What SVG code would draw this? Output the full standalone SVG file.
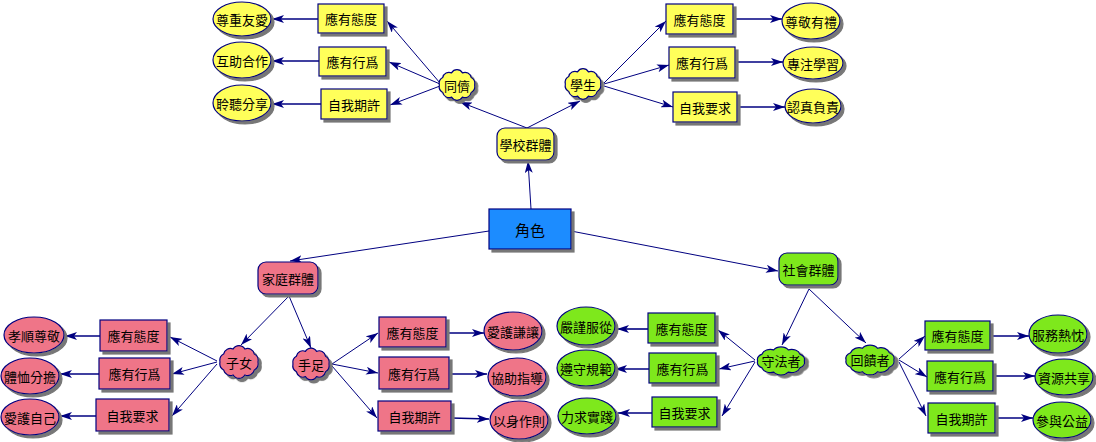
<svg xmlns="http://www.w3.org/2000/svg" xmlns:xlink="http://www.w3.org/1999/xlink" width="1096" height="442" viewBox="0 0 1096 442">
<style>
text{font-family:"Noto Sans CJK TC","Noto Sans CJK SC",sans-serif;font-size:13px;fill:#000;text-anchor:middle;dominant-baseline:central}
.sh{filter:url(#ds)}
.y{fill:#ffff5a;stroke:#000080;stroke-width:1.2}
.p{fill:#ef7588;stroke:#000080;stroke-width:1.2}
.g{fill:#7ee81e;stroke:#000080;stroke-width:1.2}
.b{fill:#1a8cff;stroke:#000080;stroke-width:1.2}
#edges line{stroke:#000080;stroke-width:1;marker-end:url(#ah)}
#edges line.h{stroke-width:1.6}
</style>
<defs>
<filter id="ds" x="-20%" y="-20%" width="150%" height="150%">
<feDropShadow dx="3" dy="3" stdDeviation="0.4" flood-color="#777" flood-opacity="1"/>
</filter>
<marker id="ah" markerWidth="13" markerHeight="8" refX="12" refY="4" orient="auto" markerUnits="userSpaceOnUse">
<path d="M0,0 L12,4 L0,8 L3,4 z" fill="#000080"/>
</marker>
<path id="cl" vector-effect="non-scaling-stroke" d="M19,0 A7,7 0 0 1 15.4,7.6 A7,7 0 0 1 5.9,12.4 A7,7 0 0 1 -5.9,12.4 A7,7 0 0 1 -15.4,7.6 A7,7 0 0 1 -19,0 A7,7 0 0 1 -15.4,-7.6 A7,7 0 0 1 -5.9,-12.4 A7,7 0 0 1 5.9,-12.4 A7,7 0 0 1 15.4,-7.6 A7,7 0 0 1 19,0 Z"/>
</defs>
<rect width="1096" height="442" fill="#fff"/>
<g id="edges">
<line x1="531" y1="209" x2="528" y2="161"/>
<line x1="527" y1="128" x2="460" y2="102"/>
<line x1="527" y1="128" x2="580" y2="101"/>
<line x1="440" y1="83" x2="387" y2="21"/>
<line x1="440" y1="84" x2="389" y2="62"/>
<line x1="440" y1="86" x2="390" y2="105"/>
<line class="h" x1="318" y1="19" x2="272" y2="19"/>
<line class="h" x1="319" y1="61" x2="272" y2="61"/>
<line class="h" x1="321" y1="104" x2="272" y2="104"/>
<line x1="604" y1="83" x2="666" y2="21"/>
<line x1="604" y1="84" x2="669" y2="65"/>
<line x1="604" y1="86" x2="673" y2="107"/>
<line class="h" x1="733" y1="19" x2="782" y2="19"/>
<line class="h" x1="735" y1="62" x2="783" y2="62"/>
<line class="h" x1="737" y1="107" x2="785" y2="107"/>
<line x1="489" y1="231" x2="290" y2="261"/>
<line x1="289" y1="296" x2="241" y2="345"/>
<line x1="289" y1="296" x2="311" y2="348"/>
<line x1="217" y1="361" x2="170" y2="337"/>
<line x1="217" y1="362" x2="172" y2="374"/>
<line x1="217" y1="364" x2="172" y2="416"/>
<line class="h" x1="100" y1="336" x2="65" y2="336"/>
<line class="h" x1="99" y1="374" x2="60" y2="374"/>
<line class="h" x1="96" y1="416" x2="60" y2="416"/>
<line x1="332" y1="364" x2="378" y2="333"/>
<line x1="332" y1="364" x2="378" y2="373"/>
<line x1="332" y1="366" x2="377" y2="418"/>
<line class="h" x1="446" y1="333" x2="484" y2="333"/>
<line class="h" x1="449" y1="374" x2="487" y2="374"/>
<line class="h" x1="451" y1="418" x2="489" y2="419"/>
<line x1="571" y1="231" x2="778" y2="271"/>
<line x1="809" y1="289" x2="782" y2="345"/>
<line x1="809" y1="289" x2="866" y2="343"/>
<line x1="755" y1="360" x2="718" y2="330"/>
<line x1="755" y1="361" x2="719" y2="369"/>
<line x1="755" y1="362" x2="722" y2="416"/>
<line class="h" x1="648" y1="329" x2="617" y2="329"/>
<line class="h" x1="649" y1="369" x2="615" y2="369"/>
<line class="h" x1="652" y1="413" x2="618" y2="413"/>
<line x1="899" y1="359" x2="925" y2="336"/>
<line x1="899" y1="360" x2="927" y2="377"/>
<line x1="899" y1="362" x2="926" y2="416"/>
<line class="h" x1="990" y1="336" x2="1029" y2="336"/>
<line class="h" x1="993" y1="376" x2="1035" y2="376"/>
<line class="h" x1="995" y1="418" x2="1033" y2="418"/>
</g>
<g id="n-role"><rect class="b sh" x="489" y="209" width="82" height="40"/><text x="530" y="229" style="font-size:15px">角色</text></g>
<g id="n-school"><rect class="y sh" x="497" y="128" width="57" height="32" rx="8"/><text x="525.5" y="144">學校群體</text></g>
<g id="n-peer"><use xlink:href="#cl" class="y sh" transform="translate(457,85) scale(0.93,0.98)"/><text x="457" y="85">同儕</text></g>
<g id="n-student"><use xlink:href="#cl" class="y sh" transform="translate(583,84) scale(0.93,0.98)"/><text x="583" y="84">學生</text></g>
<g id="n-p1"><rect class="y sh" x="318" y="4" width="66" height="29"/><text x="351" y="18.5">應有態度</text></g>
<g id="n-p2"><rect class="y sh" x="319" y="47" width="67" height="29"/><text x="352.5" y="61.5">應有行爲</text></g>
<g id="n-p3"><rect class="y sh" x="321" y="89" width="66" height="30"/><text x="354" y="104">自我期許</text></g>
<g id="n-p1v"><ellipse class="y sh" cx="242" cy="19" rx="29" ry="17"/><text x="242" y="19">尊重友愛</text></g>
<g id="n-p2v"><ellipse class="y sh" cx="242" cy="60" rx="29" ry="18"/><text x="242" y="60">互助合作</text></g>
<g id="n-p3v"><ellipse class="y sh" cx="242" cy="103" rx="29" ry="18"/><text x="242" y="103">聆聽分享</text></g>
<g id="n-s1"><rect class="y sh" x="666" y="4" width="67" height="30"/><text x="699.5" y="19">應有態度</text></g>
<g id="n-s2"><rect class="y sh" x="669" y="47" width="66" height="31"/><text x="702" y="62.5">應有行爲</text></g>
<g id="n-s3"><rect class="y sh" x="673" y="92" width="64" height="30"/><text x="705" y="107">自我要求</text></g>
<g id="n-s1v"><ellipse class="y sh" cx="811" cy="21" rx="29" ry="18"/><text x="811" y="21">尊敬有禮</text></g>
<g id="n-s2v"><ellipse class="y sh" cx="813" cy="63" rx="30" ry="16"/><text x="813" y="63">專注學習</text></g>
<g id="n-s3v"><ellipse class="y sh" cx="813" cy="106" rx="28" ry="17"/><text x="813" y="106">認真負責</text></g>
<g id="n-family"><rect class="p sh" x="258" y="262" width="60" height="32" rx="8"/><text x="288" y="278">家庭群體</text></g>
<g id="n-child"><use xlink:href="#cl" class="p sh" transform="translate(239,362) scale(1,1.05)"/><text x="239" y="362">子女</text></g>
<g id="n-sib"><use xlink:href="#cl" class="p sh" transform="translate(311,364) scale(0.95,1.02)"/><text x="311" y="364">手足</text></g>
<g id="n-c1"><rect class="p sh" x="100" y="320" width="67" height="31"/><text x="133.5" y="335.5">應有態度</text></g>
<g id="n-c2"><rect class="p sh" x="99" y="358" width="71" height="31"/><text x="134.5" y="373.5">應有行爲</text></g>
<g id="n-c3"><rect class="p sh" x="96" y="399" width="73" height="32"/><text x="132.5" y="415">自我要求</text></g>
<g id="n-c1v"><ellipse class="p sh" cx="34" cy="335" rx="30" ry="18"/><text x="34" y="335">孝順尊敬</text></g>
<g id="n-c2v"><ellipse class="p sh" cx="30" cy="376" rx="29" ry="18"/><text x="30" y="376">體恤分擔</text></g>
<g id="n-c3v"><ellipse class="p sh" cx="30" cy="417" rx="29" ry="18"/><text x="30" y="417">愛護自己</text></g>
<g id="n-b1"><rect class="p sh" x="379" y="317" width="67" height="30"/><text x="412.5" y="332">應有態度</text></g>
<g id="n-b2"><rect class="p sh" x="379" y="357" width="70" height="32"/><text x="414" y="373">應有行爲</text></g>
<g id="n-b3"><rect class="p sh" x="378" y="401" width="73" height="30"/><text x="414.5" y="416">自我期許</text></g>
<g id="n-b1v"><ellipse class="p sh" cx="513" cy="331" rx="29" ry="19"/><text x="513" y="331">愛護謙讓</text></g>
<g id="n-b2v"><ellipse class="p sh" cx="517" cy="377" rx="29" ry="19"/><text x="517" y="377">協助指導</text></g>
<g id="n-b3v"><ellipse class="p sh" cx="519" cy="420" rx="29" ry="19"/><text x="519" y="420">以身作則</text></g>
<g id="n-society"><rect class="g sh" x="779" y="253" width="59" height="32" rx="8"/><text x="808.5" y="269">社會群體</text></g>
<g id="n-law"><use xlink:href="#cl" class="g sh" transform="translate(781,361) scale(1.23,0.9)"/><text x="781" y="360">守法者</text></g>
<g id="n-give"><use xlink:href="#cl" class="g sh" transform="translate(870,360) scale(1.26,0.95)"/><text x="870" y="359">回饋者</text></g>
<g id="n-l1"><rect class="g sh" x="648" y="313" width="67" height="30"/><text x="681.5" y="328">應有態度</text></g>
<g id="n-l2"><rect class="g sh" x="649" y="353" width="67" height="30"/><text x="682.5" y="368">應有行爲</text></g>
<g id="n-l3"><rect class="g sh" x="652" y="397" width="65" height="30"/><text x="684.5" y="412">自我要求</text></g>
<g id="n-l1v"><ellipse class="g sh" cx="586" cy="326" rx="29" ry="19"/><text x="586" y="326">嚴謹服從</text></g>
<g id="n-l2v"><ellipse class="g sh" cx="586" cy="368" rx="29" ry="18"/><text x="586" y="368">遵守規範</text></g>
<g id="n-l3v"><ellipse class="g sh" cx="587" cy="416" rx="29" ry="18"/><text x="587" y="416">力求實踐</text></g>
<g id="n-g1"><rect class="g sh" x="925" y="321" width="65" height="29"/><text x="957.5" y="335.5">應有態度</text></g>
<g id="n-g2"><rect class="g sh" x="927" y="361" width="66" height="30"/><text x="960" y="376">應有行爲</text></g>
<g id="n-g3"><rect class="g sh" x="928" y="403" width="67" height="30"/><text x="961.5" y="418">自我期許</text></g>
<g id="n-g1v"><ellipse class="g sh" cx="1058" cy="334" rx="29" ry="19"/><text x="1058" y="334">服務熱忱</text></g>
<g id="n-g2v"><ellipse class="g sh" cx="1064" cy="377" rx="29" ry="18"/><text x="1064" y="377">資源共享</text></g>
<g id="n-g3v"><ellipse class="g sh" cx="1062" cy="420" rx="29" ry="18"/><text x="1062" y="420">參與公益</text></g>
</svg>
